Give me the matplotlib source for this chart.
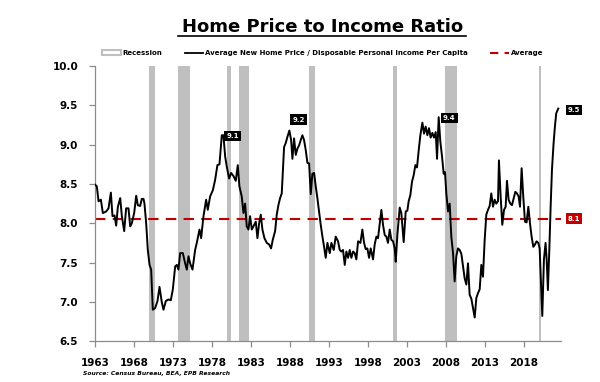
import matplotlib
matplotlib.use('Agg')
import matplotlib.pyplot as plt
from matplotlib.patches import Patch
from matplotlib.lines import Line2D

# average new home price / disposable personal income per capita
years = [
    1963.00, 1963.21, 1963.43, 1963.73, 1963.98, 1964.41, 1964.71, 1965.01, 1965.22, 1965.48,
    1965.69, 1965.91, 1966.21, 1966.42, 1966.72, 1966.97, 1967.27, 1967.49, 1967.70, 1968.00,
    1968.26, 1968.47, 1968.77, 1968.98, 1969.20, 1969.32, 1969.54, 1969.75, 1969.97, 1970.18,
    1970.39, 1970.69, 1970.99, 1971.25, 1971.55, 1971.76, 1972.06, 1972.40, 1972.70, 1972.96,
    1973.26, 1973.47, 1973.68, 1973.90, 1974.24, 1974.54, 1974.75, 1974.97, 1975.18, 1975.48,
    1975.82, 1976.03, 1976.38, 1976.59, 1976.89, 1977.23, 1977.44, 1977.74, 1978.09, 1978.38,
    1978.68, 1978.94, 1979.24, 1979.45, 1979.67, 1979.88, 1980.18, 1980.44, 1980.74, 1981.03,
    1981.29, 1981.50, 1981.80, 1982.02, 1982.23, 1982.44, 1982.66, 1982.87, 1983.09, 1983.30,
    1983.60, 1983.81, 1984.03, 1984.24, 1984.45, 1984.71, 1985.01, 1985.31, 1985.56, 1985.78,
    1986.08, 1986.29, 1986.50, 1986.72, 1986.93, 1987.23, 1987.44, 1987.66, 1987.91, 1988.13,
    1988.30, 1988.51, 1988.73, 1988.94, 1989.15, 1989.37, 1989.58, 1989.79, 1990.01, 1990.22,
    1990.44, 1990.65, 1990.86, 1991.08, 1991.29, 1991.50, 1991.72, 1991.93, 1992.15, 1992.36,
    1992.57, 1992.79,
    1993.09, 1993.30, 1993.60, 1993.85, 1994.15, 1994.37, 1994.58, 1994.79, 1995.01, 1995.22,
    1995.44, 1995.65, 1995.86, 1996.08, 1996.29, 1996.50, 1996.72, 1997.02, 1997.27, 1997.49,
    1997.70, 1997.91, 1998.13, 1998.34, 1998.64, 1998.85, 1999.07, 1999.28, 1999.50, 1999.71,
    1999.92, 2000.14, 2000.35, 2000.56, 2000.78, 2000.99, 2001.21, 2001.42, 2001.55, 2001.76,
    2002.06, 2002.27, 2002.57, 2002.83, 2003.04, 2003.21, 2003.43, 2003.64, 2003.85, 2004.07,
    2004.28, 2004.50, 2004.71, 2004.97, 2005.18, 2005.39, 2005.61, 2005.82, 2006.03, 2006.25,
    2006.46, 2006.68, 2006.85, 2007.06, 2007.27, 2007.49, 2007.70, 2007.87, 2008.04, 2008.26,
    2008.47, 2008.68, 2008.90, 2009.11, 2009.32, 2009.53, 2009.75, 2009.97, 2010.18, 2010.39,
    2010.61, 2010.82, 2011.03, 2011.25, 2011.46, 2011.68, 2011.89, 2012.10, 2012.32, 2012.53,
    2012.74, 2012.96, 2013.17, 2013.38, 2013.60, 2013.81, 2014.03, 2014.24, 2014.45, 2014.67,
    2014.79, 2015.01, 2015.22, 2015.44, 2015.65, 2015.82, 2016.03, 2016.25, 2016.46, 2016.68,
    2016.89, 2017.10, 2017.32, 2017.49, 2017.70, 2017.91, 2018.13, 2018.34, 2018.56, 2018.77,
    2018.98, 2019.20, 2019.41, 2019.62, 2019.84, 2020.01, 2020.18, 2020.35, 2020.56, 2020.77,
    2020.91, 2021.07, 2021.25, 2021.42, 2021.59, 2021.80, 2021.97, 2022.14, 2022.40,
]
ratio = [
    8.49, 8.47, 8.28, 8.30, 8.13, 8.15, 8.19, 8.39, 8.09, 8.10,
    7.97, 8.21, 8.32, 8.09, 7.90, 8.19, 8.19, 7.96, 8.00, 8.13,
    8.35, 8.23, 8.22, 8.31, 8.31, 8.25, 8.00, 7.66, 7.47, 7.41,
    6.90, 6.92, 7.01, 7.19, 6.99, 6.90, 7.01, 7.03, 7.02, 7.16,
    7.45, 7.47, 7.41, 7.62, 7.62, 7.49, 7.41, 7.58, 7.49, 7.41,
    7.66, 7.75, 7.92, 7.81, 8.09, 8.30, 8.17, 8.34, 8.42, 8.55,
    8.74, 8.75, 9.12, 9.12, 8.85, 8.72, 8.57, 8.64, 8.60, 8.54,
    8.74, 8.47, 8.34, 8.13, 8.25, 7.96, 7.92, 8.09, 7.92, 7.96,
    8.02, 7.81, 8.00, 8.11, 7.92, 7.81, 7.75, 7.73, 7.68, 7.79,
    7.90, 8.11, 8.23, 8.32, 8.38, 8.97, 9.02, 9.10, 9.18, 9.06,
    8.82, 9.08, 8.87, 8.95, 8.99, 9.06, 9.12, 9.06, 8.93, 8.77,
    8.76, 8.37, 8.63, 8.64, 8.47, 8.32, 8.15, 7.98, 7.83, 7.70,
    7.56, 7.75,
    7.62, 7.75, 7.66, 7.83, 7.77, 7.66, 7.64, 7.66, 7.47, 7.64,
    7.56, 7.66, 7.56, 7.64, 7.62, 7.54, 7.77, 7.75, 7.92, 7.75,
    7.67, 7.68, 7.56, 7.68, 7.54, 7.73, 7.83, 7.81, 8.00, 8.17,
    7.98, 7.85, 7.83, 7.75, 7.92, 7.79, 7.77, 7.68, 7.51, 7.85,
    8.20, 8.13, 7.76, 8.15, 8.16, 8.28, 8.36, 8.53, 8.61, 8.74,
    8.71, 8.93, 9.12, 9.28, 9.14, 9.23, 9.12, 9.21, 9.09, 9.15,
    9.09, 9.16, 8.82, 9.35, 9.04, 8.85, 8.63, 8.65, 8.38, 8.15,
    8.25, 7.83, 7.62, 7.26, 7.58, 7.68, 7.66, 7.61, 7.45, 7.30,
    7.22, 7.49, 7.09, 7.04, 6.92, 6.80, 7.05, 7.11, 7.16, 7.47,
    7.32, 7.79, 8.11, 8.17, 8.22, 8.38, 8.21, 8.30, 8.25, 8.28,
    8.80, 8.34, 7.98, 8.17, 8.21, 8.54, 8.30, 8.25, 8.23, 8.32,
    8.40, 8.38, 8.34, 8.21, 8.70, 8.34, 8.02, 8.01, 8.21, 8.00,
    7.83, 7.70, 7.73, 7.77, 7.75, 7.68, 7.24, 6.82, 7.54, 7.75,
    7.54, 7.15, 7.66, 8.21, 8.68, 9.02, 9.23, 9.40, 9.46,
]
recessions = [
    (1969.84, 1970.69), (1973.62, 1975.18), (1979.88, 1980.44), (1981.46, 1982.70),
    (1990.40, 1991.16), (2001.21, 2001.68), (2007.91, 2009.45), (2019.88, 2020.22),
]
average = 8.06
x_ticks = [1963, 1968, 1973, 1978, 1983, 1988, 1993, 1998, 2003, 2008, 2013, 2018]
y_ticks = [6.5, 7.0, 7.5, 8.0, 8.5, 9.0, 9.5, 10.0]
# peak call-outs: text, x, y, alignment
callouts = [
    ('9.1', 1979.85, 9.11, 'left'),
    ('9.2', 1989.1, 9.32, 'center'),
    ('9.4', 2007.6, 9.34, 'left'),
    ('9.5', 2023.6, 9.44, 'left'),
]

red = '#c00000'
spine_col = '#8c8c8c'

fig = plt.figure(figsize=(6, 3.82), dpi=100)
ax = fig.add_axes([0.158, 0.107, 0.777, 0.720])

for start, end in recessions:
    ax.axvspan(start, end, color='#bfbfbf', lw=0, zorder=1)
ax.axhline(average, color=red, lw=1.5, ls=(0, (5, 3.5)), zorder=2)
ax.plot(years, ratio, color='black', lw=1.4, zorder=3)

ax.set_xlim(1962.95, 2022.75)
ax.set_ylim(6.5, 10.0)
ax.set_xticks(x_ticks)
ax.set_yticks(y_ticks)
ax.set_yticklabels(['%.1f' % v for v in y_ticks])
for side in ['top', 'right']:
    ax.spines[side].set_visible(False)
for side in ['left', 'bottom']:
    ax.spines[side].set_color(spine_col)
    ax.spines[side].set_linewidth(0.9)
ax.tick_params(axis='both', length=4, width=0.9, color=spine_col, labelsize=7.5)
ax.tick_params(axis='x', pad=8)
ax.tick_params(axis='y', pad=8)
for lbl in ax.get_xticklabels() + ax.get_yticklabels():
    lbl.set_fontweight('bold')

for txt, x, y, ha in callouts:
    ax.text(x, y, txt, color='white', fontsize=5, fontweight='bold', ha=ha, va='center',
            bbox=dict(boxstyle='square,pad=0.3', fc='black', ec='none'), clip_on=False, zorder=5)
ax.text(2023.6, average, '8.1', color='white', fontsize=5, fontweight='bold', ha='left',
        va='center', bbox=dict(boxstyle='square,pad=0.3', fc=red, ec='none'), clip_on=False, zorder=5)

# title with underline
fig.text(0.537, 0.916, 'Home Price to Income Ratio', ha='center', va='baseline',
         fontsize=13, fontweight='bold')
fig.add_artist(Line2D([0.297, 0.777], [0.906, 0.906], transform=fig.transFigure,
                      color='black', lw=1.2))

handles = [
    Patch(facecolor='white', edgecolor='#bfbfbf', lw=1.5),
    Line2D([], [], color='black', lw=1.3),
    Line2D([], [], color=red, lw=1.5, ls=(0, (4, 3))),
]
labels = ['Recession', 'Average New Home Price / Disposable Personal Income Per Capita', 'Average']
fig.legend(handles, labels, loc='center', bbox_to_anchor=(0.538, 0.861), ncol=3, frameon=False,
           prop={'weight': 'bold', 'size': 5.0}, columnspacing=3.2, handlelength=2.7,
           handletextpad=0.3, handleheight=0.8)

fig.text(0.138, 0.018, 'Source: Census Bureau, BEA, EPB Research', fontsize=4.3,
         fontstyle='italic', fontweight='bold')

fig.savefig('out.png', dpi=100)
